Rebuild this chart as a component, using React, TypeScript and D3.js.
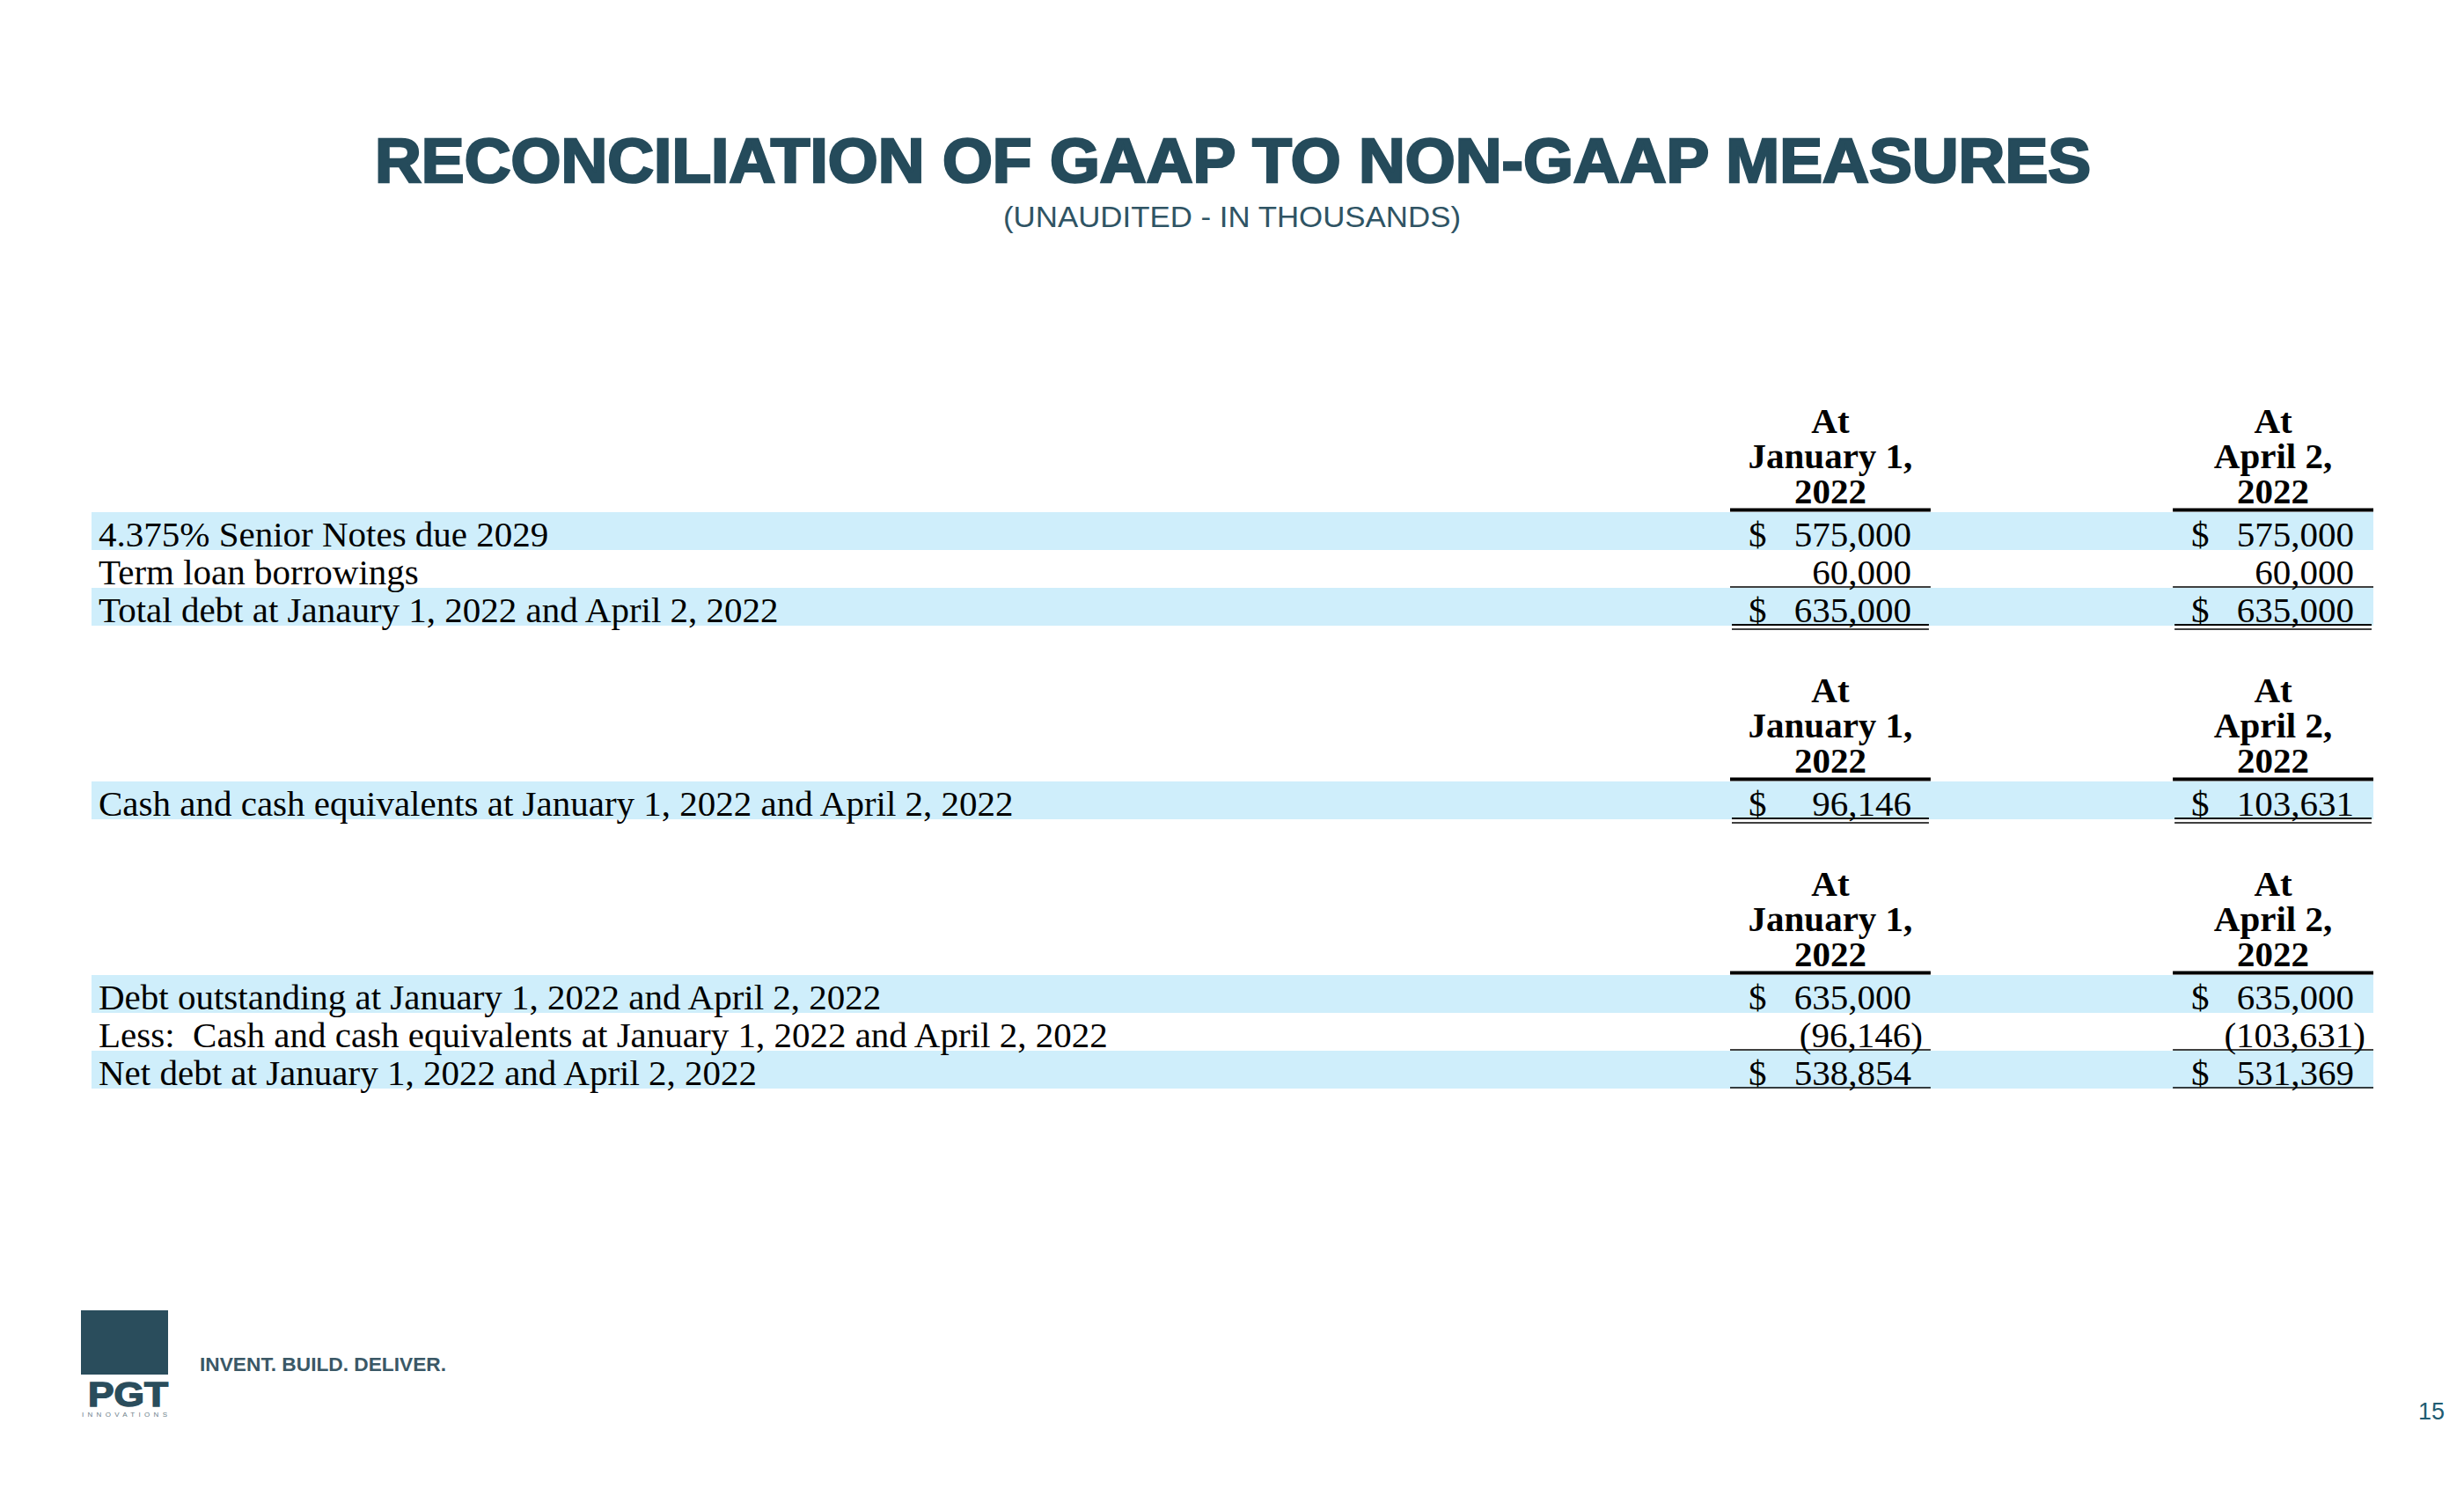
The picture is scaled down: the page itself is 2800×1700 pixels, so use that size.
import React from 'react';
import * as d3 from 'd3';

// column headers
const colKeys = ['jan', 'apr'];
const janHeader = ['At', 'January 1,', '2022'];
const aprHeader = ['At', 'April 2,', '2022'];

// section 1: total debt
const debtLabels = ['4.375% Senior Notes due 2029', 'Term loan borrowings', 'Total debt at Janaury 1, 2022 and April 2, 2022'];
const debtJan = [575000, 60000, 635000];
const debtApr = [575000, 60000, 635000];
const debtDollar = [true, false, true];
const debtRule = ['none', 'single', 'double'];

// section 2: cash
const cashLabels = ['Cash and cash equivalents at January 1, 2022 and April 2, 2022'];
const cashJan = [96146];
const cashApr = [103631];
const cashDollar = [true];
const cashRule = ['double'];

// section 3: net debt
const netLabels = ['Debt outstanding at January 1, 2022 and April 2, 2022', 'Less:  Cash and cash equivalents at January 1, 2022 and April 2, 2022', 'Net debt at January 1, 2022 and April 2, 2022'];
const netJan = [635000, -96146, 538854];
const netApr = [635000, -103631, 531369];
const netDollar = [true, false, true];
const netRule = ['none', 'single', 'single'];

const sections = [
  { labels: debtLabels, jan: debtJan, apr: debtApr, dollar: debtDollar, rule: debtRule },
  { labels: cashLabels, jan: cashJan, apr: cashApr, dollar: cashDollar, rule: cashRule },
  { labels: netLabels, jan: netJan, apr: netApr, dollar: netDollar, rule: netRule },
];

const W = 2800;
const H = 1700;
const SERIF = "'Liberation Serif', 'Times New Roman', Times, serif";
const SANS = "'Liberation Sans', Arial, Helvetica, sans-serif";
const TEAL = '#254b5b';
const BAND = '#cfeefb';
const ROW_H = 43;
const SECTION_GAP = 177;
const FS = 41;

const fmt = d3.format(',');

export default function App() {
  const x = d3.scaleBand<string>().domain(colKeys).range([1966, 2697]).paddingInner(0.547).paddingOuter(0);
  const bw = x.bandwidth();
  const labelX = 112;
  const bandL = 104;
  const bandR = 2697;

  // header underline y per section
  let lineY = 579.5;
  const blocks: any[] = [];
  sections.forEach((s, si) => {
    const top = lineY + 2.5;
    const y = d3.scaleBand<number>().domain(d3.range(s.labels.length)).range([top, top + s.labels.length * ROW_H]);
    blocks.push({ s, y, lineY, si });
    lineY = lineY + s.labels.length * ROW_H + SECTION_GAP;
  });

  const headers: Record<string, string[]> = { jan: janHeader, apr: aprHeader };

  return (
    <svg width={W} height={H} style={{ position: 'absolute', left: 0, top: 0, background: '#fff' }}>
      <rect width={W} height={H} fill="#fff" />
      <text x={1401} y={207} textAnchor="middle" fontFamily={SANS} fontWeight={900} fontSize={70}
        fill={TEAL} stroke={TEAL} strokeWidth={2.5} textLength={1950} lengthAdjust="spacingAndGlyphs">
        RECONCILIATION OF GAAP TO NON-GAAP MEASURES
      </text>
      <text x={1400} y={258} textAnchor="middle" fontFamily={SANS} fontSize={34} fill="#2f5464"
        textLength={520} lengthAdjust="spacingAndGlyphs">
        (UNAUDITED - IN THOUSANDS)
      </text>

      {blocks.map(({ s, y, lineY: ly, si }) => (
        <g key={si}>
          {/* bands */}
          {s.labels.map((_: string, i: number) => (i % 2 === 0 ? (
            <rect key={'b' + i} x={bandL} y={y(i)} width={bandR - bandL} height={y.bandwidth()} fill={BAND} />
          ) : null))}
          {/* column headers */}
          {colKeys.map((k) => (
            <g key={k}>
              {headers[k].map((t, j) => (
                <text key={j} x={x(k)! + bw / 2} y={ly - 87.5 + j * 40} textAnchor="middle"
                  fontFamily={SERIF} fontWeight="bold" fontSize={FS} fill="#000">{t}</text>
              ))}
              <line x1={x(k)!} x2={x(k)! + bw} y1={ly} y2={ly} stroke="#000" strokeWidth={4} />
            </g>
          ))}
          {/* rows */}
          {s.labels.map((label: string, i: number) => {
            const top = y(i)!;
            const bottom = top + y.bandwidth();
            const base = top + 39;
            return (
              <g key={'r' + i}>
                <text x={labelX} y={base} fontFamily={SERIF} fontSize={FS} fill="#000"
                  style={{ whiteSpace: 'pre' }}>{label}</text>
                {colKeys.map((k) => {
                  const v: number = (s as any)[k][i];
                  const x0 = x(k)!;
                  const numRight = x0 + bw - 22;
                  const rule = s.rule[i];
                  return (
                    <g key={k}>
                      {s.dollar[i] && (
                        <text x={x0 + 21} y={base} fontFamily={SERIF} fontSize={FS} fill="#000">$</text>
                      )}
                      <text x={v < 0 ? numRight + 13 : numRight} y={base} textAnchor="end"
                        fontFamily={SERIF} fontSize={FS} fill="#000">
                        {v < 0 ? `(${fmt(-v)})` : fmt(v)}
                      </text>
                      {rule === 'single' && (
                        <line x1={x0} x2={x0 + bw} y1={bottom - 1} y2={bottom - 1} stroke="#000" strokeWidth={1.6} />
                      )}
                      {rule === 'double' && (
                        <>
                          <line x1={x0 + 2} x2={x0 + bw - 2} y1={bottom - 1} y2={bottom - 1} stroke="#000" strokeWidth={2} />
                          <line x1={x0 + 2} x2={x0 + bw - 2} y1={bottom + 4} y2={bottom + 4} stroke="#000" strokeWidth={1.6} />
                        </>
                      )}
                    </g>
                  );
                })}
              </g>
            );
          })}
        </g>
      ))}

      {/* logo */}
      <rect x={92} y={1489} width={99} height={73} fill="#2a4d5c" />
      <text x={100} y={1598} fontFamily={SANS} fontWeight={900} fontSize={38} fill="#2a4d5c"
        stroke="#2a4d5c" strokeWidth={1.5} textLength={91} lengthAdjust="spacingAndGlyphs">PGT</text>
      <text x={93} y={1610} fontFamily={SANS} fontSize={8} fill="#6e828b"
        textLength={97} lengthAdjust="spacing">INNOVATIONS</text>
      <text x={227} y={1558} fontFamily={SANS} fontWeight="bold" fontSize={22} fill="#3a5866"
        textLength={280} lengthAdjust="spacingAndGlyphs">INVENT. BUILD. DELIVER.</text>

      <text x={2778} y={1613} textAnchor="end" fontFamily={SANS} fontSize={27} fill="#1f5c72">15</text>
    </svg>
  );
}
